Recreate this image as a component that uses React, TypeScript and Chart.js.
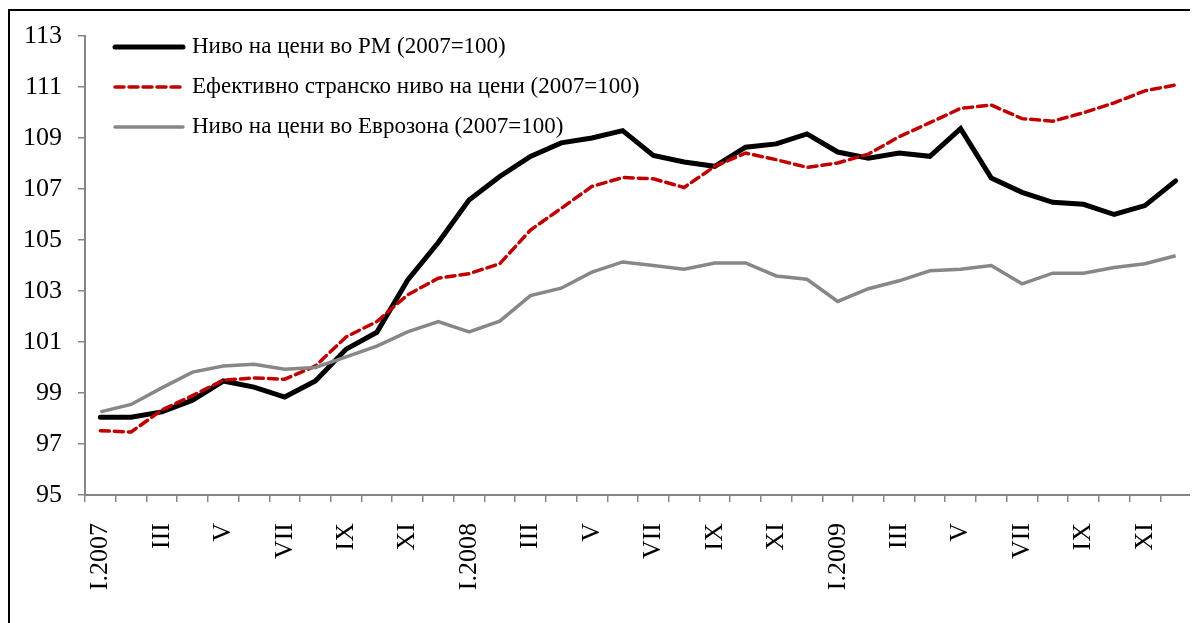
import React, { useEffect, useRef } from "react";
import { Chart, registerables } from "chart.js";

Chart.register(...registerables);

if (typeof document !== "undefined") {
  document.documentElement.style.overflow = "hidden";
}

const categories = [
  "I.2007", "II", "III", "IV", "V", "VI", "VII", "VIII", "IX", "X", "XI", "XII",
  "I.2008", "II", "III", "IV", "V", "VI", "VII", "VIII", "IX", "X", "XI", "XII",
  "I.2009", "II", "III", "IV", "V", "VI", "VII", "VIII", "IX", "X", "XI", "XII",
];

const seriesNames = [
  "Ниво на цени во РМ (2007=100)",
  "Ефективно странско ниво на цени (2007=100)",
  "Ниво на цени во Еврозона (2007=100)",
];

const priceMK = [
  98.05, 98.05, 98.26, 98.72, 99.47, 99.23, 98.84, 99.47, 100.72, 101.38, 103.42, 104.9,
  106.57, 107.49, 108.28, 108.81, 109.0, 109.29, 108.32, 108.06, 107.89, 108.64, 108.77, 109.16,
  108.45, 108.21, 108.41, 108.28, 109.37, 107.43, 106.87, 106.48, 106.4, 106.0, 106.35, 107.32,
];

const priceForeign = [
  97.52, 97.47, 98.33, 98.9, 99.5, 99.59, 99.54, 100.06, 101.2, 101.8, 102.85, 103.5,
  103.68, 104.07, 105.39, 106.24, 107.1, 107.45, 107.4, 107.06, 107.89, 108.41, 108.15, 107.85,
  108.02, 108.37, 109.05, 109.6, 110.16, 110.29, 109.76, 109.66, 109.99, 110.38, 110.85, 111.08,
];

const priceEuro = [
  98.26, 98.55, 99.2, 99.82, 100.06, 100.13, 99.93, 100.0, 100.42, 100.84, 101.4, 101.8,
  101.4, 101.82, 102.82, 103.11, 103.74, 104.14, 104.0, 103.85, 104.1, 104.1, 103.59, 103.46,
  102.59, 103.09, 103.4, 103.79, 103.85, 104.0, 103.28, 103.7, 103.7, 103.92, 104.07, 104.38,
];

const yMin = 95;
const yMax = 113;
const yStep = 2;

const FONT = "'Liberation Serif', 'Times New Roman', serif";

const legendPlugin = {
  id: "innerLegend",
  afterDraw(chart: any) {
    const { ctx, chartArea } = chart;
    const x0 = chartArea.left + 30;
    const x1 = chartArea.left + 98;
    const tx = chartArea.left + 107;
    const rows = [11, 51, 91];
    const styles = [
      { color: "#000000", width: 5, dash: [] as number[] },
      { color: "#C00000", width: 3.5, dash: [9, 5] },
      { color: "#878787", width: 3.5, dash: [] as number[] },
    ];
    ctx.save();
    seriesNames.forEach((name, i) => {
      const y = chartArea.top + rows[i];
      const s = styles[i];
      ctx.beginPath();
      ctx.setLineDash(s.dash);
      ctx.lineWidth = s.width;
      ctx.strokeStyle = s.color;
      ctx.lineCap = "round";
      ctx.moveTo(x0, y);
      ctx.lineTo(x1, y);
      ctx.stroke();
      ctx.setLineDash([]);
      ctx.fillStyle = "#000";
      ctx.font = `23px ${FONT}`;
      ctx.textBaseline = "middle";
      ctx.textAlign = "left";
      ctx.fillText(name, tx, y);
    });
    ctx.restore();
  },
};

export default function App() {
  const ref = useRef<HTMLCanvasElement | null>(null);

  useEffect(() => {
    if (!ref.current) return;
    const chart = new Chart(ref.current, {
      type: "line",
      data: {
        labels: categories,
        datasets: [
          {
            label: seriesNames[0],
            data: priceMK,
            borderColor: "#000000",
            borderWidth: 5,
            pointRadius: 0,
            tension: 0,
            borderCapStyle: "round",
            order: 2,
          },
          {
            label: seriesNames[1],
            data: priceForeign,
            borderColor: "#C00000",
            borderWidth: 3.5,
            borderDash: [9, 5],
            pointRadius: 0,
            tension: 0,
            borderCapStyle: "round",
            order: 1,
          },
          {
            label: seriesNames[2],
            data: priceEuro,
            borderColor: "#878787",
            borderWidth: 3.5,
            pointRadius: 0,
            tension: 0,
            order: 0,
          },
        ],
      },
      options: {
        responsive: false,
        animation: false,
        devicePixelRatio: 1,
        layout: { padding: { left: 0, top: 25, right: 7, bottom: 0 } },
        plugins: {
          legend: { display: false },
          tooltip: { enabled: false },
          title: { display: false },
        },
        scales: {
          x: {
            type: "category",
            offset: true,
            grid: {
              display: true,
              drawOnChartArea: false,
              drawTicks: true,
              tickLength: 7,
              color: "#868686",
              lineWidth: 1.5,
              offset: true,
            },
            border: { display: true, color: "#868686", width: 2 },
            ticks: {
              autoSkip: false,
              maxRotation: 90,
              minRotation: 90,
              padding: 21,
              color: "#000",
              font: { family: FONT, size: 26 },
              callback: (_v: any, i: number) => (i % 2 === 0 ? categories[i] : ""),
            },
            afterFit: (s: any) => {
              s.height = 118;
              s.paddingLeft = 0;
              s.paddingRight = 0;
            },
          },
          y: {
            min: yMin,
            max: yMax,
            grid: {
              display: true,
              drawOnChartArea: false,
              drawTicks: true,
              tickLength: 7,
              color: "#868686",
              lineWidth: 1.5,
            },
            border: { display: true, color: "#868686", width: 2 },
            ticks: {
              stepSize: yStep,
              padding: 16,
              color: "#000",
              font: { family: FONT, size: 26 },
            },
            afterFit: (s: any) => {
              s.width = 75;
              s.paddingTop = 0;
              s.paddingBottom = 0;
            },
          },
        },
      },
      plugins: [legendPlugin],
    });
    return () => chart.destroy();
  }, []);

  return (
    <div
      style={{
        marginTop: 1,
        width: 1188,
        height: 620,
        borderTop: "2px solid #000",
        borderLeft: "2px solid #000",
        background: "#fff",
      }}
    >
      <canvas ref={ref} width={1188} height={602} style={{ display: "block" }} />
    </div>
  );
}
